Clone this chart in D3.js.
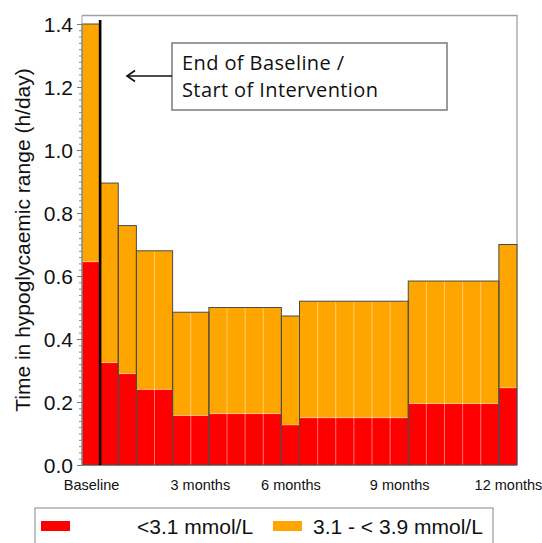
<!DOCTYPE html>
<html>
<head>
<meta charset="utf-8">
<script src="https://cdn.jsdelivr.net/npm/d3@7"></script>
<style>
  body { margin: 0; background: #fff; }
  svg { display: block; }
</style>
</head>
<body>
<div id="chart"></div>
<script>
const w = 542;
const h = 543;

// bar groups, in 2-week periods from start of baseline
const periodStart = [0, 1, 2, 3, 5, 7, 11, 12, 18, 23];
const periodEnd   = [1, 2, 3, 5, 7, 11, 12, 18, 23, 24];
// hours/day below 3.1 mmol/L
const below31 = [0.645, 0.325, 0.29, 0.24, 0.157, 0.163, 0.127, 0.15, 0.195, 0.245];
// hours/day 3.1 - < 3.9 mmol/L
const from31to39 = [0.755, 0.57, 0.47, 0.44, 0.328, 0.337, 0.346, 0.37, 0.389, 0.455];

const tickPeriods = [0, 6, 11, 17, 23];
const tickLabels = ['Baseline', '3 months', '6 months', '9 months', '12 months'];
const yTicks = [0, 0.2, 0.4, 0.6, 0.8, 1.0, 1.2, 1.4];
const seriesNames = ['<3.1 mmol/L', '3.1 - < 3.9 mmol/L'];
const seriesColors = ['#ff0000', '#ffa500'];

const baselineEndTop = 1.413;

const svg = d3.select('#chart')
  .append('svg')
  .attr('width', w)
  .attr('height', h);

const plotLeft = 82, plotRight = 517, plotTop = 15.5, plotBottom = 465;

const xScale = d3.scaleLinear()
  .domain([0, 24])
  .range([plotLeft, plotRight]);

const yScale = d3.scaleLinear()
  .domain([0, 1.4])
  .range([plotBottom, 24]);

const groups = periodStart.map(function(s, i) {
  return { start: s, end: periodEnd[i], red: below31[i], total: below31[i] + from31to39[i] };
});

// plot frame (top and right)
svg.append('path')
  .attr('d', 'M' + plotLeft + ',' + plotTop + 'H' + plotRight + 'V' + plotBottom)
  .attr('fill', 'none')
  .attr('stroke', '#a0a0a0')
  .attr('stroke-width', 1.3);

svg.append('line')
  .attr('x1', plotLeft).attr('x2', plotRight)
  .attr('y1', plotBottom + 0.5).attr('y2', plotBottom + 0.5)
  .attr('stroke', '#b5c4c8')
  .attr('stroke-width', 1);

// bars
const bars = svg.append('g');

bars.selectAll('rect.red')
  .data(groups)
  .enter()
  .append('rect')
  .attr('class', 'red')
  .attr('x', function(d) { return xScale(d.start); })
  .attr('width', function(d) { return xScale(d.end) - xScale(d.start); })
  .attr('y', function(d) { return yScale(d.red); })
  .attr('height', function(d) { return yScale(0) - yScale(d.red); })
  .attr('fill', seriesColors[0]);

bars.selectAll('rect.orange')
  .data(groups)
  .enter()
  .append('rect')
  .attr('class', 'orange')
  .attr('x', function(d) { return xScale(d.start); })
  .attr('width', function(d) { return xScale(d.end) - xScale(d.start); })
  .attr('y', function(d) { return yScale(d.total); })
  .attr('height', function(d) { return yScale(d.red) - yScale(d.total); })
  .attr('fill', seriesColors[1]);

// faint line where the two series meet
bars.selectAll('line.seam')
  .data(groups)
  .enter()
  .append('line')
  .attr('class', 'seam')
  .attr('x1', function(d) { return xScale(d.start); })
  .attr('x2', function(d) { return xScale(d.end); })
  .attr('y1', function(d) { return yScale(d.red); })
  .attr('y2', function(d) { return yScale(d.red); })
  .attr('stroke', 'rgba(255,255,255,0.35)')
  .attr('stroke-width', 1);

// thin lines between the 2-week periods inside a group
const dividers = [];
groups.forEach(function(g) {
  for (let p = g.start + 1; p < g.end; p++) dividers.push({ p: p, total: g.total });
});

bars.selectAll('line.div')
  .data(dividers)
  .enter()
  .append('line')
  .attr('class', 'div')
  .attr('x1', function(d) { return xScale(d.p); })
  .attr('x2', function(d) { return xScale(d.p); })
  .attr('y1', function(d) { return yScale(d.total) + 1; })
  .attr('y2', yScale(0))
  .attr('stroke', 'rgba(255,255,255,0.45)')
  .attr('stroke-width', 1);

// group outlines
bars.selectAll('rect.outline')
  .data(groups)
  .enter()
  .append('rect')
  .attr('class', 'outline')
  .attr('x', function(d) { return xScale(d.start); })
  .attr('width', function(d) { return xScale(d.end) - xScale(d.start); })
  .attr('y', function(d) { return yScale(d.total); })
  .attr('height', function(d) { return yScale(0) - yScale(d.total); })
  .attr('fill', 'none')
  .attr('stroke', '#4a4a4a')
  .attr('stroke-width', 1);

// end of baseline marker
svg.append('line')
  .attr('x1', xScale(1)).attr('x2', xScale(1))
  .attr('y1', yScale(0)).attr('y2', yScale(baselineEndTop))
  .attr('stroke', '#000')
  .attr('stroke-width', 2.6);

// y axis
const yAxis = d3.axisLeft(yScale)
  .tickValues(yTicks)
  .tickFormat(d3.format('.1f'))
  .tickSize(5)
  .tickPadding(4);

const yMinor = d3.axisLeft(yScale)
  .tickValues(d3.range(0, 71).map(function(i) { return i * 0.02; }))
  .tickFormat('')
  .tickSize(3);

const gMinor = svg.append('g')
  .attr('transform', 'translate(' + plotLeft + ',0)')
  .call(yMinor);
gMinor.select('.domain').remove();
gMinor.selectAll('line').attr('stroke', '#7d8a90');

const gy = svg.append('g')
  .attr('transform', 'translate(' + plotLeft + ',0)')
  .call(yAxis);
gy.select('.domain').attr('stroke', '#9aa6ab').attr('d', 'M0,' + plotBottom + 'V' + plotTop);
gy.selectAll('line').attr('stroke', '#6d7a80');
gy.selectAll('text')
  .attr('font-family', 'Liberation Sans, Arial, sans-serif')
  .attr('font-size', '21px')
  .attr('fill', '#111')
  .attr('dy', '0.36em');

svg.append('text')
  .attr('transform', 'translate(30,' + 240 + ') rotate(-90)')
  .attr('text-anchor', 'middle')
  .attr('font-family', 'Liberation Sans, Arial, sans-serif')
  .attr('font-size', '21px')
  .attr('fill', '#111')
  .text('Time in hypoglycaemic range (h/day)');

// x axis labels
const xAxis = d3.axisBottom(xScale)
  .tickValues(tickPeriods.map(function(p) { return p + 0.5; }))
  .tickFormat(function(d, i) { return tickLabels[i]; })
  .tickSize(0)
  .tickPadding(15);

const gx = svg.append('g')
  .attr('transform', 'translate(0,' + plotBottom + ')')
  .call(xAxis);
gx.select('.domain').remove();
gx.selectAll('text')
  .attr('font-family', 'Liberation Sans, Arial, sans-serif')
  .attr('font-size', '14.5px')
  .attr('fill', '#111');

// annotation
const ann = svg.append('g');
ann.append('rect')
  .attr('x', 172).attr('y', 43)
  .attr('width', 275).attr('height', 67)
  .attr('fill', '#fff')
  .attr('stroke', '#7a7a7a')
  .attr('stroke-width', 1.5);
ann.append('line')
  .attr('x1', 172).attr('x2', 127)
  .attr('y1', 76).attr('y2', 76)
  .attr('stroke', '#111')
  .attr('stroke-width', 1.6);
ann.append('path')
  .attr('d', 'M135,70.5 L127,76 L135,81.5')
  .attr('fill', 'none')
  .attr('stroke', '#111')
  .attr('stroke-width', 1.6);
ann.append('text')
  .attr('x', 182).attr('y', 70)
  .attr('font-family', 'Open Sans, Lato, sans-serif')
  .attr('font-size', '20px')
  .attr('letter-spacing', '0.4px')
  .attr('fill', '#111')
  .text('End of Baseline /');
ann.append('text')
  .attr('x', 182).attr('y', 97)
  .attr('font-family', 'Open Sans, Lato, sans-serif')
  .attr('font-size', '20px')
  .attr('letter-spacing', '0.4px')
  .attr('fill', '#111')
  .text('Start of Intervention');

// legend
const leg = svg.append('g');
leg.append('rect')
  .attr('x', 35).attr('y', 508)
  .attr('width', 458).attr('height', 45)
  .attr('fill', '#fff')
  .attr('stroke', '#9a9a9a')
  .attr('stroke-width', 1.2);

const legSw = [41, 273];
const legTx = [137, 313];
seriesNames.forEach(function(name, i) {
  leg.append('rect')
    .attr('x', legSw[i]).attr('y', 521)
    .attr('width', 29).attr('height', 10)
    .attr('fill', seriesColors[i]);
  leg.append('text')
    .attr('x', legTx[i]).attr('y', 534)
    .attr('font-family', 'Liberation Sans, Arial, sans-serif')
    .attr('font-size', '21px')
    .attr('fill', '#111')
    .text(name);
});
</script>
</body>
</html>
